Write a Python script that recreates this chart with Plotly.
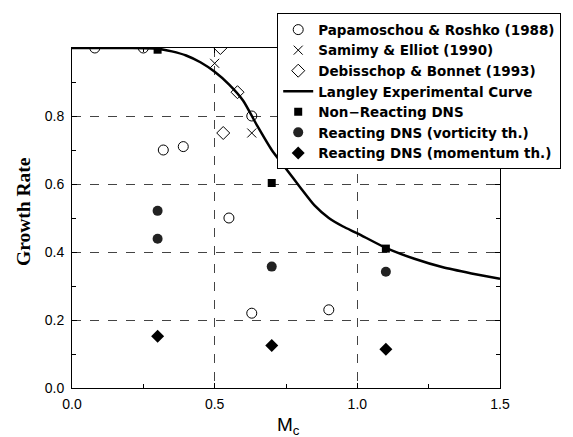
import plotly.graph_objects as go

# Papamoschou & Roshko (1988)
pr_x = [0.08, 0.25, 0.32, 0.39, 0.55, 0.63, 0.63, 0.90]
pr_y = [1.0, 1.0, 0.70, 0.71, 0.50, 0.80, 0.22, 0.23]
# Samimy & Elliot (1990)
se_x = [0.50, 0.63]
se_y = [0.955, 0.75]
# Debisschop & Bonnet (1993)
db_x = [0.52, 0.53, 0.58]
db_y = [1.0, 0.75, 0.87]
# Langley experimental curve
lc_x = [0.0, 0.1, 0.2, 0.3, 0.35, 0.4, 0.45, 0.5, 0.55, 0.6, 0.65, 0.7, 0.75,
        0.8, 0.85, 0.9, 0.95, 1.0, 1.1, 1.2, 1.3, 1.4, 1.5]
lc_y = [1.0, 1.0, 1.0, 0.998, 0.99, 0.978, 0.958, 0.93, 0.893, 0.845, 0.77, 0.70,
        0.645, 0.59, 0.537, 0.50, 0.475, 0.455, 0.412, 0.38, 0.355, 0.337, 0.321]
# DNS results
nr_x = [0.3, 0.7, 1.1]
nr_y = [0.995, 0.603, 0.41]
rv_x = [0.3, 0.3, 0.7, 1.1]
rv_y = [0.521, 0.439, 0.357, 0.342]
rm_x = [0.3, 0.7, 1.1]
rm_y = [0.152, 0.125, 0.114]

fig = go.Figure()
fig.add_trace(go.Scatter(x=pr_x, y=pr_y, mode="markers", name="Papamoschou & Roshko (1988)",
                         marker=dict(symbol="circle-open", size=10, color="black", line=dict(width=1))))
fig.add_trace(go.Scatter(x=se_x, y=se_y, mode="markers", name="Samimy & Elliot (1990)",
                         marker=dict(symbol="x-thin-open", size=9, color="black", line=dict(width=1))))
fig.add_trace(go.Scatter(x=db_x, y=db_y, mode="markers", name="Debisschop & Bonnet (1993)",
                         marker=dict(symbol="diamond-open", size=10, color="black", line=dict(width=1))))
fig.add_trace(go.Scatter(x=lc_x, y=lc_y, mode="lines", name="Langley Experimental Curve",
                         line=dict(color="black", width=2.5, shape="spline", smoothing=0.6)))
fig.add_trace(go.Scatter(x=nr_x, y=nr_y, mode="markers", name="Non\u2212Reacting DNS",
                         marker=dict(symbol="square", size=8, color="black")))
fig.add_trace(go.Scatter(x=rv_x, y=rv_y, mode="markers", name="Reacting DNS (vorticity th.)",
                         marker=dict(symbol="circle", size=10, color="#222222")))
fig.add_trace(go.Scatter(x=rm_x, y=rm_y, mode="markers", name="Reacting DNS (momentum th.)",
                         marker=dict(symbol="diamond", size=10, color="black")))

axis_common = dict(
    showline=True, linecolor="black", linewidth=1, mirror="allticks",
    ticks="inside", ticklen=5, tickcolor="black",
    showgrid=True, gridcolor="#444444", griddash="dash", gridwidth=1,
    zeroline=False,
    tickfont=dict(family="Liberation Sans, Arial, sans-serif", size=14, color="black"),
)

fig.update_xaxes(range=[0, 1.5], tickvals=[0, 0.5, 1.0, 1.5], ticktext=["0.0", "0.5", "1.0", "1.5"],
                 minor=dict(ticks="inside", ticklen=4, tickvals=[0.25, 0.75, 1.25], tickcolor="black",
                            showgrid=False),
                 ticklabelstandoff=3,
                 **axis_common)
fig.update_yaxes(range=[0, 1.0], tickvals=[0, 0.2, 0.4, 0.6, 0.8], ticktext=["0.0", "0.2", "0.4", "0.6", "0.8"],
                 minor=dict(ticks="inside", ticklen=4, tickvals=[0.1, 0.3, 0.5, 0.7, 0.9], tickcolor="black",
                            showgrid=False),
                 ticklabelstandoff=4,
                 **axis_common)

fig.add_annotation(text="<b>Growth Rate</b>", textangle=-90, xref="paper", yref="paper",
                   x=-0.115, y=0.52, xanchor="center", yanchor="middle", showarrow=False,
                   font=dict(family="Liberation Serif, Times New Roman, serif", size=19.5, color="black"))
fig.add_annotation(text="M<sub>c</sub>", xref="paper", yref="paper",
                   x=0.505, y=-0.07, xanchor="center", yanchor="top", showarrow=False,
                   font=dict(family="Liberation Sans, Arial, sans-serif", size=19, color="black"))

fig.update_layout(
    width=573, height=437,
    margin=dict(l=72, r=73, t=48, b=49),
    paper_bgcolor="white", plot_bgcolor="white",
    showlegend=True,
    legend=dict(x=1.143, y=1.102, xanchor="right", yanchor="top",
                bgcolor="white", bordercolor="black", borderwidth=1,
                font=dict(family="DejaVu Sans, sans-serif", size=13.5, color="black", weight="bold"),
                itemwidth=30, tracegroupgap=0, traceorder="normal"),
)

fig.write_html("out.html")
